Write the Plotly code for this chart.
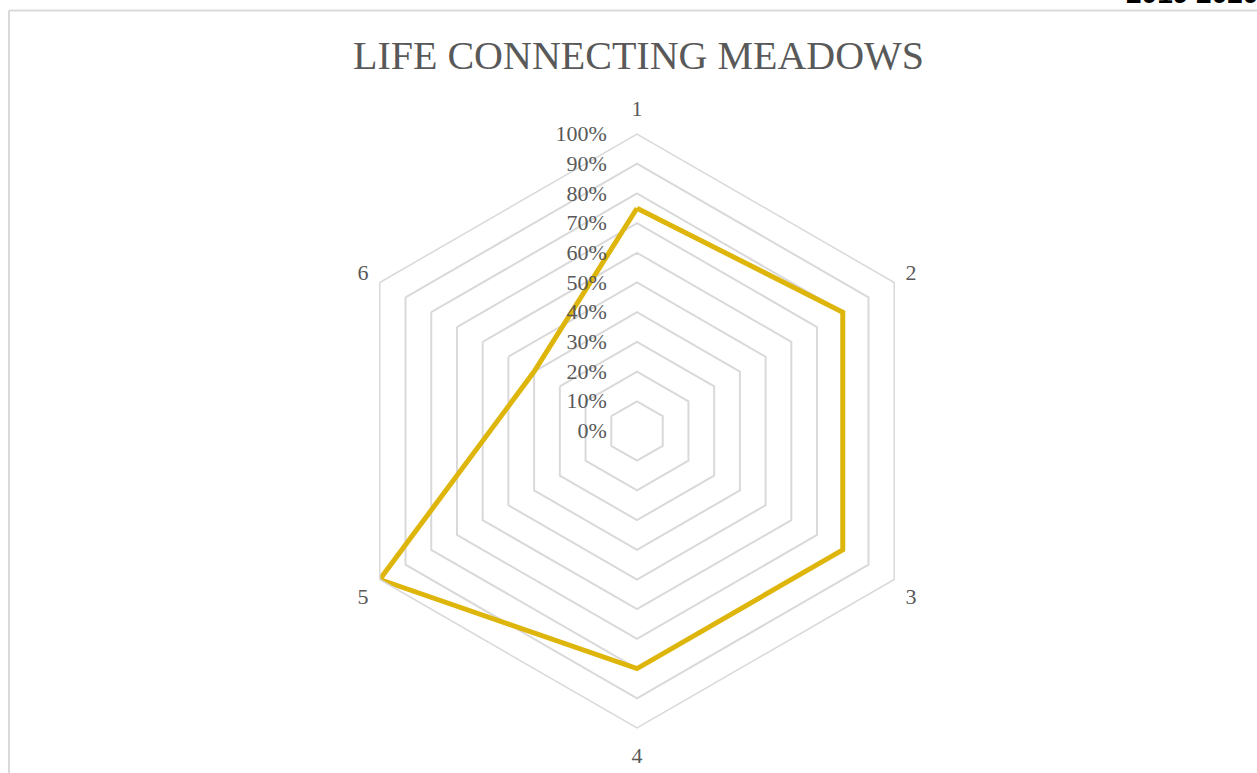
import plotly.graph_objects as go

categories = ["1", "2", "3", "4", "5", "6"]
values = [0.75, 0.80, 0.80, 0.80, 1.00, 0.40]
tick_vals = [0, 0.1, 0.2, 0.3, 0.4, 0.5, 0.6, 0.7, 0.8, 0.9, 1.0]

W, H = 1257, 773
cx, cy, R = 637, 431, 297

fig = go.Figure()
fig.add_trace(go.Scatterpolar(
    r=values + values[:1],
    theta=categories + categories[:1],
    mode="lines",
    line=dict(color="#DEB50B", width=5),
    showlegend=False,
))

grid = "#D9D9D9"
txt = "#595959"
font = "Liberation Serif"

fig.update_layout(
    width=W, height=H,
    margin=dict(l=0, r=0, t=0, b=0),
    paper_bgcolor="white",
    font=dict(family=font, color=txt, size=22),
    polar=dict(
        domain=dict(x=[(cx - R) / W, (cx + R) / W],
                    y=[1 - (cy + R) / H, 1 - (cy - R) / H]),
        gridshape="linear",
        bgcolor="white",
        radialaxis=dict(
            range=[0, 1],
            tickvals=tick_vals,
            tickformat=".0%",
            angle=90,
            side="counterclockwise",
            tickangle=90,
            showline=False,
            gridcolor=grid,
            gridwidth=1.5,
            ticks="outside",
            ticklen=22,
            tickcolor="rgba(0,0,0,0)",
            tickfont=dict(family=font, color=txt, size=22),
        ),
        angularaxis=dict(
            rotation=90,
            direction="clockwise",
            showgrid=False,
            showline=True,
            linecolor=grid,
            linewidth=1.5,
            ticks="outside",
            ticklen=8,
            tickcolor="rgba(0,0,0,0)",
            tickfont=dict(family=font, color=txt, size=22),
        ),
    ),
    annotations=[
        dict(text="LIFE CONNECTING MEADOWS", x=638 / W, y=1 - 55 / H,
             xref="paper", yref="paper", xanchor="center", yanchor="middle",
             showarrow=False, font=dict(family=font, size=40, color=txt)),
        dict(text="<b>2019 2020</b>", x=1124 / W, y=1 + 6 / H,
             xref="paper", yref="paper", xanchor="left", yanchor="middle",
             showarrow=False, font=dict(family="Liberation Sans", size=28, color="black")),
    ],
    shapes=[
        dict(type="line", xref="paper", yref="paper", x0=9 / W, x1=1.05,
             y0=1 - 10.5 / H, y1=1 - 10.5 / H, line=dict(color=grid, width=2)),
        dict(type="line", xref="paper", yref="paper", x0=9 / W, x1=9 / W,
             y0=1 - 10.5 / H, y1=-0.05, line=dict(color=grid, width=2)),
    ],
)

fig.write_html(
    "out.html",
    config={"displayModeBar": False},
    post_script="document.body.style.margin='0';document.body.style.overflow='hidden';",
)
